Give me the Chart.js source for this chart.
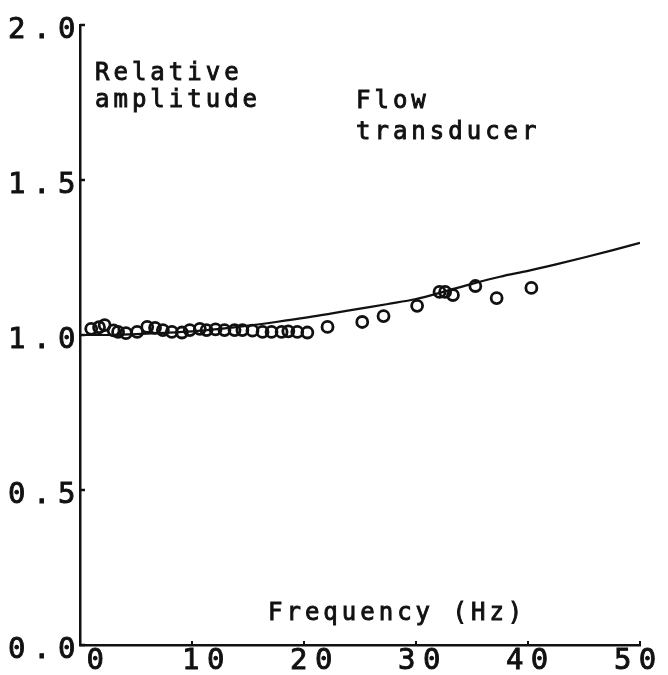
<!DOCTYPE html>
<html>
<head>
<meta charset="utf-8">
<script src="https://cdn.jsdelivr.net/npm/chart.js@4"></script>
<style>
  html, body { margin: 0; padding: 0; background: #fff; }
  #wrap { width: 668px; height: 675px; position: relative; }
</style>
</head>
<body>
<div id="wrap"><canvas id="ampChart"></canvas></div>
<script>
// measured amplitude ratios (circles)
const freqPoints = [1.0, 1.7, 2.2, 3.0, 3.4, 4.1, 5.1, 6.0, 6.7, 7.4, 8.2, 9.1, 9.8, 10.7, 11.3,
  12.1, 12.9, 13.8, 14.5, 15.4, 16.3, 17.1, 18.0, 18.6, 19.4, 20.3, 22.1, 25.2, 27.1, 30.1,
  32.1, 32.6, 33.3, 35.3, 37.2, 40.3];
const ampPoints = [1.020, 1.025, 1.032, 1.015, 1.010, 1.006, 1.010, 1.026, 1.023, 1.016, 1.010, 1.008,
  1.016, 1.020, 1.016, 1.018, 1.016, 1.016, 1.016, 1.014, 1.010, 1.010, 1.010, 1.012, 1.010, 1.008,
  1.026, 1.042, 1.061, 1.094, 1.139, 1.139, 1.129, 1.158, 1.119, 1.152];

// fitted response curve
const freqCurve = [0, 2.5, 5, 7.5, 10, 12.5, 15, 17.5, 20, 22.5, 25, 27.5, 30, 32.5, 35, 37.5, 40, 42.5, 45, 47.5, 50];
const ampCurve = [1.0, 1.0, 1.003, 1.007, 1.012, 1.02, 1.03, 1.042, 1.055, 1.07, 1.085, 1.10, 1.116,
  1.14, 1.165, 1.188, 1.207, 1.228, 1.25, 1.273, 1.297];

const xTicks = [0, 10, 20, 30, 40, 50];
const yTicks = [0, 0.5, 1.0, 1.5, 2.0];

const ink = '#111';
const tickFont = '29px "DejaVu Sans Mono", monospace';
const textFont = '24px "DejaVu Sans Mono", monospace';

const zip = (xs, ys) => xs.map((x, i) => ({ x: x, y: ys[i] }));

// filled text with a thin outline so it reads like pen-plotter strokes
function penText(ctx, str, x, y) {
  ctx.fillText(str, x, y);
  ctx.strokeText(str, x, y);
}

// plotter style: spaced-out lettering, inward ticks, labels and notes drawn by hand
const plotterStyle = {
  id: 'plotterStyle',
  afterDraw(chart) {
    const ctx = chart.ctx;
    const xs = chart.scales.x, ys = chart.scales.y;
    const a = chart.chartArea;
    ctx.save();
    ctx.strokeStyle = ink;
    ctx.lineWidth = 2.5;
    yTicks.forEach(v => {
      const py = ys.getPixelForValue(v);
      ctx.beginPath(); ctx.moveTo(a.left, py); ctx.lineTo(a.left + 5, py); ctx.stroke();
    });
    ctx.lineWidth = 2;
    xTicks.forEach(v => {
      const px = xs.getPixelForValue(v);
      ctx.beginPath(); ctx.moveTo(px, a.bottom); ctx.lineTo(px, a.bottom - 4); ctx.stroke();
    });

    ctx.fillStyle = ink;
    ctx.lineWidth = 0.9;
    ctx.font = tickFont;
    ctx.letterSpacing = '7.5px';
    ctx.textBaseline = 'middle';
    // y tick labels, right edge just left of the axis
    ctx.textAlign = 'right';
    yTicks.forEach(v => {
      penText(ctx, v.toFixed(1), a.left + 3, ys.getPixelForValue(v) + 5);
    });
    // x tick labels under the axis
    ctx.textAlign = 'center';
    xTicks.forEach(v => {
      const px = xs.getPixelForValue(v);
      const cx = a.left + 19 + (px - a.left) * 0.964;
      penText(ctx, String(v), cx, a.bottom + 16);
    });

    ctx.font = textFont;
    ctx.letterSpacing = '4px';
    ctx.textBaseline = 'alphabetic';
    ctx.textAlign = 'left';
    penText(ctx, 'Relative', 95, 80);
    penText(ctx, 'amplitude', 95, 107);
    penText(ctx, 'Flow', 356, 108);
    penText(ctx, 'transducer', 356, 139);
    penText(ctx, 'Frequency (Hz)', 268, 620);
    ctx.restore();
  }
};

new Chart(document.getElementById('ampChart'), {
  type: 'scatter',
  data: {
    datasets: [
      {
        data: zip(freqCurve, ampCurve),
        showLine: true,
        borderColor: ink,
        borderWidth: 2.2,
        pointRadius: 0,
        cubicInterpolationMode: 'monotone'
      },
      {
        data: zip(freqPoints, ampPoints),
        pointStyle: 'circle',
        pointRadius: 5.5,
        pointBorderWidth: 2.8,
        pointBorderColor: ink,
        pointBackgroundColor: 'rgba(255,255,255,0)'
      }
    ]
  },
  plugins: [plotterStyle],
  options: {
    responsive: true,
    maintainAspectRatio: false,
    animation: false,
    layout: { padding: { top: 25, right: 28, left: 0, bottom: 0 } },
    plugins: { legend: { display: false }, tooltip: { enabled: false } },
    scales: {
      x: {
        type: 'linear', min: 0, max: 50,
        afterBuildTicks: s => { s.ticks = xTicks.map(v => ({ value: v })); },
        afterFit: s => { s.height = 30; },
        grid: { display: false },
        border: { color: ink, width: 2.5 },
        ticks: { display: false }
      },
      y: {
        type: 'linear', min: 0, max: 2,
        afterBuildTicks: s => { s.ticks = yTicks.map(v => ({ value: v })); },
        afterFit: s => { s.width = 80; },
        grid: { display: false },
        border: { color: ink, width: 2.5 },
        ticks: { display: false }
      }
    }
  }
});
</script>
</body>
</html>
